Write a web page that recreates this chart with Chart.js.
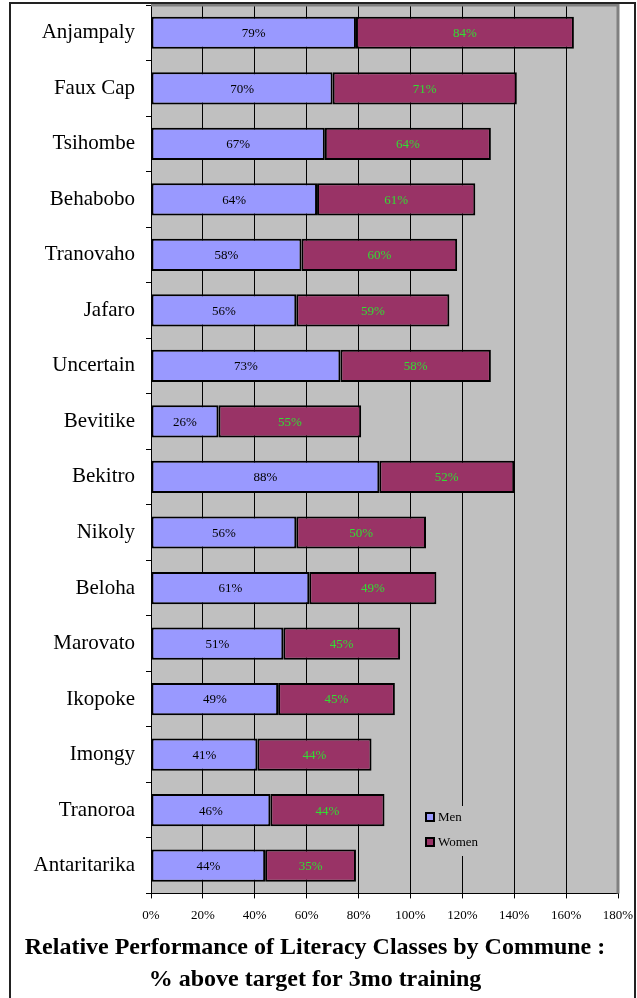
<!DOCTYPE html>
<html lang="en">
<head>
<meta charset="UTF-8">
<title>Literacy Classes by Commune</title>
<script src="https://cdn.jsdelivr.net/npm/chart.js"></script>
<style>
    body { margin: 0; background: #fff; }
    canvas { display: block; }
</style>
</head>
<body>
<canvas id="grafico" width="637" height="998"></canvas>
<script>
    var communes = ['Anjampaly', 'Faux Cap', 'Tsihombe', 'Behabobo', 'Tranovaho', 'Jafaro', 'Uncertain',
        'Bevitike', 'Bekitro', 'Nikoly', 'Beloha', 'Marovato', 'Ikopoke', 'Imongy', 'Tranoroa', 'Antaritarika'];
    var men = [79, 70, 67, 64, 58, 56, 73, 26, 88, 56, 61, 51, 49, 41, 46, 44];
    var women = [84, 71, 64, 61, 60, 59, 58, 55, 52, 50, 49, 45, 45, 44, 44, 35];
    var xTicks = [0, 20, 40, 60, 80, 100, 120, 140, 160, 180];

    var serif = "'Liberation Serif', 'Times New Roman', serif";
    var labelColors = ['#000000', '#33dd33'];

    // gray plot background
    var fundo = {
        id: 'fundo',
        beforeDraw: function (chart) {
            var a = chart.chartArea, ctx = chart.ctx;
            ctx.save();
            ctx.fillStyle = '#c0c0c0';
            ctx.fillRect(a.left, a.top, a.right - a.left, a.bottom - a.top);
            ctx.restore();
        }
    };

    // values written inside each bar segment, plot border, legend and frame
    var extras = {
        id: 'extras',
        afterDatasetsDraw: function (chart) {
            var ctx = chart.ctx, a = chart.chartArea;
            ctx.save();
            ctx.font = '13px ' + serif;
            ctx.textAlign = 'center';
            ctx.textBaseline = 'middle';
            chart.data.datasets.forEach(function (ds, i) {
                var meta = chart.getDatasetMeta(i);
                ctx.fillStyle = labelColors[i];
                meta.data.forEach(function (bar, j) {
                    ctx.fillText(ds.data[j] + '%', (bar.x + bar.base) / 2, bar.y + 1);
                });
            });

            // top and right edge of the plot area
            ctx.strokeStyle = '#808080';
            ctx.lineWidth = 3;
            ctx.beginPath();
            ctx.moveTo(a.left, a.top);
            ctx.lineTo(a.right, a.top);
            ctx.lineTo(a.right, a.bottom);
            ctx.stroke();

            // legend box inside the plot
            ctx.fillStyle = '#c0c0c0';
            ctx.fillRect(420, 806, 70, 50);
            ctx.textAlign = 'left';
            chart.data.datasets.forEach(function (ds, i) {
                var y = 812 + i * 25;
                ctx.fillStyle = ds.backgroundColor;
                ctx.fillRect(425, y, 10, 10);
                ctx.strokeStyle = '#000';
                ctx.lineWidth = 2;
                ctx.strokeRect(426, y + 1, 8, 8);
                ctx.fillStyle = '#000';
                ctx.fillText(ds.label, 438, y + 6);
            });
            ctx.restore();
        },
        afterDraw: function (chart) {
            var ctx = chart.ctx;
            ctx.save();
            ctx.strokeStyle = '#222';
            ctx.lineWidth = 2;
            ctx.strokeRect(10, 3, 625, 1010);
            ctx.restore();
        }
    };

    new Chart(document.getElementById('grafico'), {
        type: 'bar',
        data: {
            labels: communes,
            datasets: [{
                label: 'Men',
                data: men,
                backgroundColor: '#9999ff',
                borderColor: '#000',
                borderWidth: 2,
                borderSkipped: false,
                barPercentage: 0.58,
                categoryPercentage: 1
            }, {
                label: 'Women',
                data: women,
                backgroundColor: '#993366',
                borderColor: '#000',
                borderWidth: 2,
                borderSkipped: false,
                barPercentage: 0.58,
                categoryPercentage: 1
            }]
        },
        options: {
            indexAxis: 'y',
            responsive: false,
            animation: false,
            devicePixelRatio: 1,
            layout: { padding: { left: 12, right: 19, top: 5, bottom: 0 } },
            scales: {
                x: {
                    stacked: true,
                    min: 0,
                    max: 180,
                    afterBuildTicks: function (scale) {
                        scale.ticks = xTicks.map(function (v) { return { value: v }; });
                    },
                    afterFit: function (scale) {
                        scale.paddingLeft = 0;
                        scale.paddingRight = 0;
                    },
                    ticks: {
                        callback: function (v) { return v + '%'; },
                        font: { family: serif, size: 13 },
                        color: '#000',
                        padding: 9,
                        maxRotation: 0
                    },
                    grid: { color: '#000', lineWidth: 1, tickLength: 5 },
                    border: { color: '#000', width: 1 }
                },
                y: {
                    stacked: true,
                    afterFit: function (scale) {
                        scale.width = 139;
                        scale.paddingTop = 0;
                        scale.paddingBottom = 0;
                    },
                    ticks: {
                        font: { family: serif, size: 21 },
                        color: '#000',
                        padding: 11
                    },
                    grid: { offset: true, drawOnChartArea: false, color: '#000', tickLength: 5 },
                    border: { color: '#000', width: 1 }
                }
            },
            plugins: {
                legend: { display: false },
                tooltip: { enabled: false },
                title: {
                    display: true,
                    position: 'bottom',
                    text: ['Relative Performance of Literacy Classes by Commune :', '% above target for 3mo training'],
                    color: '#000',
                    font: { family: serif, size: 24, weight: 'bold', lineHeight: 1.333 },
                    padding: { top: 0, bottom: 2 }
                }
            }
        },
        plugins: [fundo, extras]
    });
</script>
</body>
</html>
